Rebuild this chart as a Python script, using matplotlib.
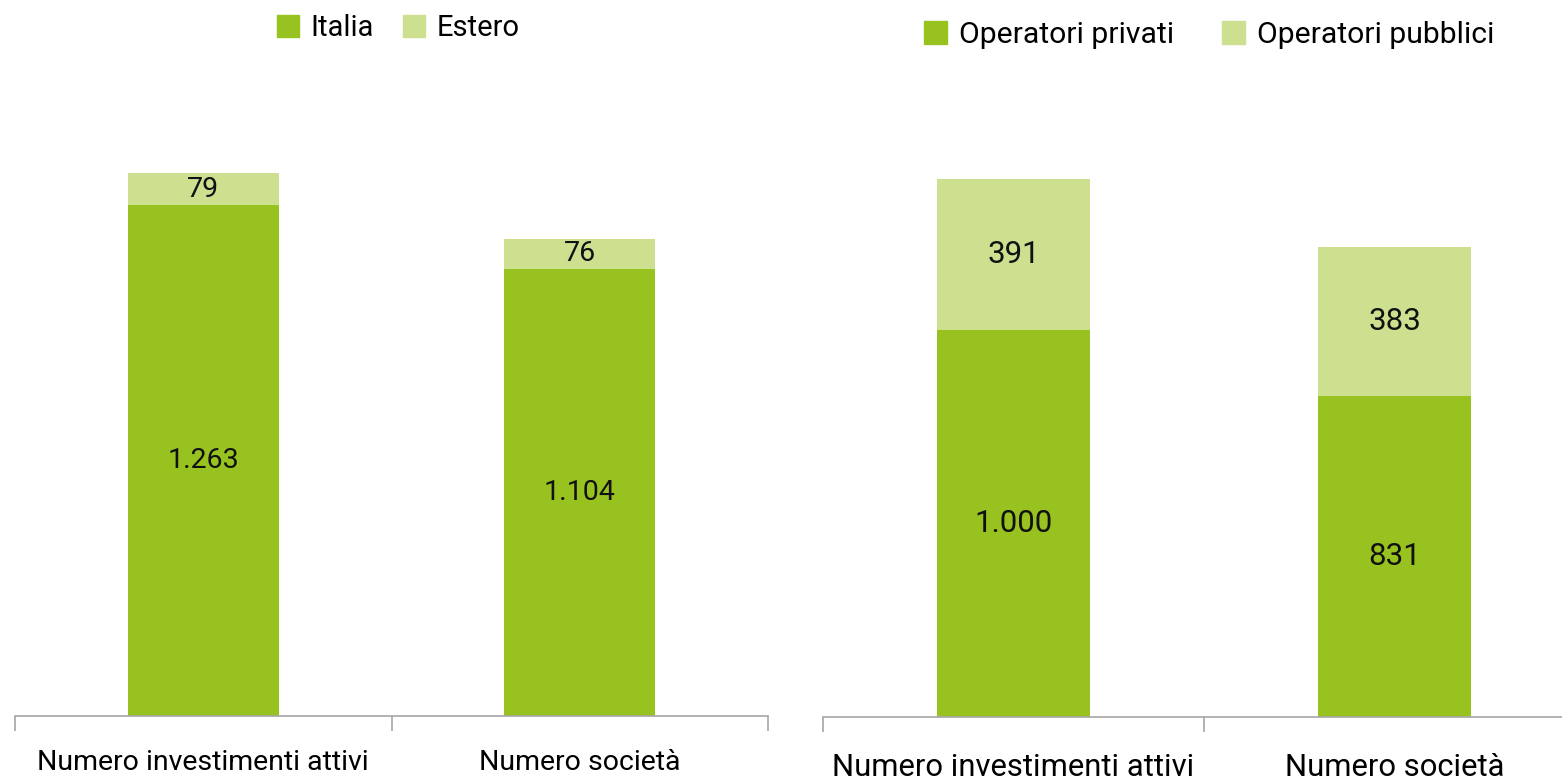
import matplotlib
matplotlib.use("Agg")
import matplotlib.pyplot as plt
from matplotlib.patches import Patch

plt.rcParams['font.family'] = ['Roboto', 'DejaVu Sans']

categories = ["Numero investimenti attivi", "Numero società"]
italia = [1263, 1104]
estero = [79, 76]
privati = [1000, 831]
pubblici = [391, 383]

DARK = "#98C21F"
LIGHT = "#CCE090"
AXC = "#A6A6A6"


def fmt(v):
    return f"{v:,}".replace(",", ".")


def panel(ax, bottom_vals, top_vals, ymax, lab_size, val_size, pad):
    x = range(len(categories))
    ax.bar(x, bottom_vals, width=0.40, color=DARK, zorder=2)
    ax.bar(x, top_vals, width=0.40, bottom=bottom_vals, color=LIGHT, zorder=2)
    for i, (b, t) in enumerate(zip(bottom_vals, top_vals)):
        ax.text(i, b / 2, fmt(b), ha="center", va="center", fontsize=val_size, color="#111111")
        ax.text(i, b + t / 2, fmt(t), ha="center", va="center", fontsize=val_size, color="#111111")
    ax.set_xlim(-0.5, len(categories) - 0.5)
    ax.set_ylim(0, ymax)
    for s in ["top", "left", "right"]:
        ax.spines[s].set_visible(False)
    ax.spines["bottom"].set_color(AXC)
    ax.spines["bottom"].set_linewidth(1.2)
    ax.set_yticks([])
    ax.set_xticks([i - 0.5 for i in range(len(categories) + 1)])
    ax.set_xticklabels([])
    ax.tick_params(axis="x", which="major", length=11, color=AXC, width=1.2, direction="out")
    ax.set_xticks(list(x), minor=True)
    ax.set_xticklabels(categories, minor=True, fontsize=lab_size)
    ax.tick_params(axis="x", which="minor", length=0, pad=pad)


fig = plt.figure(figsize=(15.62, 7.79), dpi=100)

ax1 = fig.add_axes([15 / 1562, 63 / 779, 753 / 1562, 656 / 779])
panel(ax1, italia, estero, 656 / 0.4046, 20.5, 20.5, 24)
ax1.legend(handles=[Patch(color=DARK, label="Italia"), Patch(color=LIGHT, label="Estero")],
           loc="center", bbox_to_anchor=(398 / 1562, 1 - 28 / 779), bbox_transform=fig.transFigure,
           ncol=2, frameon=False, fontsize=21, handlelength=0.75, handleheight=0.75,
           handletextpad=0.4, columnspacing=1.0)

ax2 = fig.add_axes([823 / 1562, 62 / 779, 762 / 1562, 656 / 779])
panel(ax2, privati, pubblici, 656 / 0.3868, 22.3, 22.5, 26)
ax2.legend(handles=[Patch(color=DARK, label="Operatori privati"), Patch(color=LIGHT, label="Operatori pubblici")],
           loc="center", bbox_to_anchor=(1209 / 1562, 1 - 35 / 779), bbox_transform=fig.transFigure,
           ncol=2, frameon=False, fontsize=21.7, handlelength=0.75, handleheight=0.75,
           handletextpad=0.4, columnspacing=1.6)

fig.savefig("out.png", dpi=100)
